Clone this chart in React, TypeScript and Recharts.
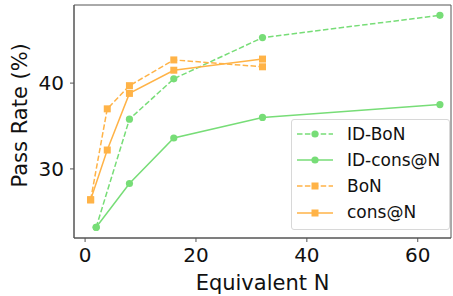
import { LineChart, Line, XAxis, YAxis, ReferenceArea } from "recharts";

const idN = [2, 8, 16, 32, 64];
const baseN = [1, 4, 8, 16, 32];
const idBoN = [23.2, 35.8, 40.5, 45.3, 47.9];
const idCons = [23.2, 28.3, 33.6, 36.0, 37.5];
const bon = [26.4, 37.0, 39.7, 42.7, 41.9];
const cons = [26.4, 32.2, 38.8, 41.5, 42.8];
const xTicks = [0, 20, 40, 60];
const yTicks = [30, 40];

const GREEN = "#77dd77";
const ORANGE = "#ffb347";

const zip = (xs: number[], ys: number[]) => xs.map((x, i) => ({ x, y: ys[i] }));

const series = [
  { name: "ID-BoN", data: zip(idN, idBoN), color: GREEN, dash: "5.5 2.4", marker: "circle" },
  { name: "ID-cons@N", data: zip(idN, idCons), color: GREEN, dash: undefined, marker: "circle" },
  { name: "BoN", data: zip(baseN, bon), color: ORANGE, dash: "5.5 2.4", marker: "square" },
  { name: "cons@N", data: zip(baseN, cons), color: ORANGE, dash: undefined, marker: "square" },
];

const Marker = (props: any) => {
  const { cx, cy, kind, color } = props;
  if (cx == null || cy == null) return null;
  if (kind === "square") {
    return <rect key={`${cx}-${cy}`} x={cx - 3.5} y={cy - 3.5} width={7} height={7} fill={color} />;
  }
  return <circle key={`${cx}-${cy}`} cx={cx} cy={cy} r={3.6} fill={color} />;
};

const LegendBox = () => (
  <div
    style={{
      position: "absolute",
      left: 291,
      top: 119,
      border: "1px solid #d8d8d8",
      borderRadius: 3,
      background: "rgba(255,255,255,0.85)",
      width: 159,
      height: 111,
      padding: "1px 0",
      boxSizing: "border-box",
    }}
  >
    {series.map((s) => (
      <div key={s.name} style={{ display: "flex", alignItems: "center", height: 26.2 }}>
        <svg width={50} height={14} style={{ marginLeft: 5 }}>
          <line x1={0} y1={7} x2={36} y2={7} stroke={s.color} strokeWidth={1.5} strokeDasharray={s.dash} />
          {s.marker === "square" ? (
            <rect x={14.5} y={3.5} width={7} height={7} fill={s.color} />
          ) : (
            <circle cx={18} cy={7} r={3.6} fill={s.color} />
          )}
        </svg>
        <span style={{ fontSize: 17, color: "#111", lineHeight: 1 }}>{s.name}</span>
      </div>
    ))}
  </div>
);

export default function App() {
  return (
    <div style={{ position: "absolute", left: 0, top: 0, width: 453, height: 296, fontFamily: "DejaVu Sans", background: "#fff" }}>
      <LineChart width={453} height={296} margin={{ top: 5, right: 2, left: 0, bottom: 0 }}>
        <XAxis
          type="number"
          dataKey="x"
          domain={[-2, 66]}
          ticks={xTicks}
          allowDataOverflow
          height={58}
          tickSize={4}
          stroke="#555"
          tick={{ fill: "#111", fontSize: 20 }}
          tickMargin={6}
          label={{ value: "Equivalent N", position: "insideBottom", offset: 6, fill: "#111", fontSize: 21 }}
        />
        <YAxis
          type="number"
          dataKey="y"
          domain={[21.95, 49.1]}
          ticks={yTicks}
          allowDataOverflow
          width={74}
          tickSize={4}
          stroke="#555"
          tick={{ fill: "#111", fontSize: 20 }}
          tickMargin={6}
          label={{ value: "Pass Rate (%)", angle: -90, position: "insideLeft", offset: 20, dy: 66, fill: "#111", fontSize: 21 }}
        />
        <ReferenceArea x1={-2} x2={66} y1={21.95} y2={49.1} fill="none" stroke="#555" strokeWidth={1} ifOverflow="visible" />
        {series.map((s) => (
          <Line
            key={s.name}
            data={s.data}
            dataKey="y"
            name={s.name}
            type="linear"
            stroke={s.color}
            strokeWidth={1.5}
            strokeDasharray={s.dash}
            isAnimationActive={false}
            dot={(p: any) => <Marker {...p} kind={s.marker} color={s.color} />}
            activeDot={false}
          />
        ))}
      </LineChart>
      <LegendBox />
    </div>
  );
}
